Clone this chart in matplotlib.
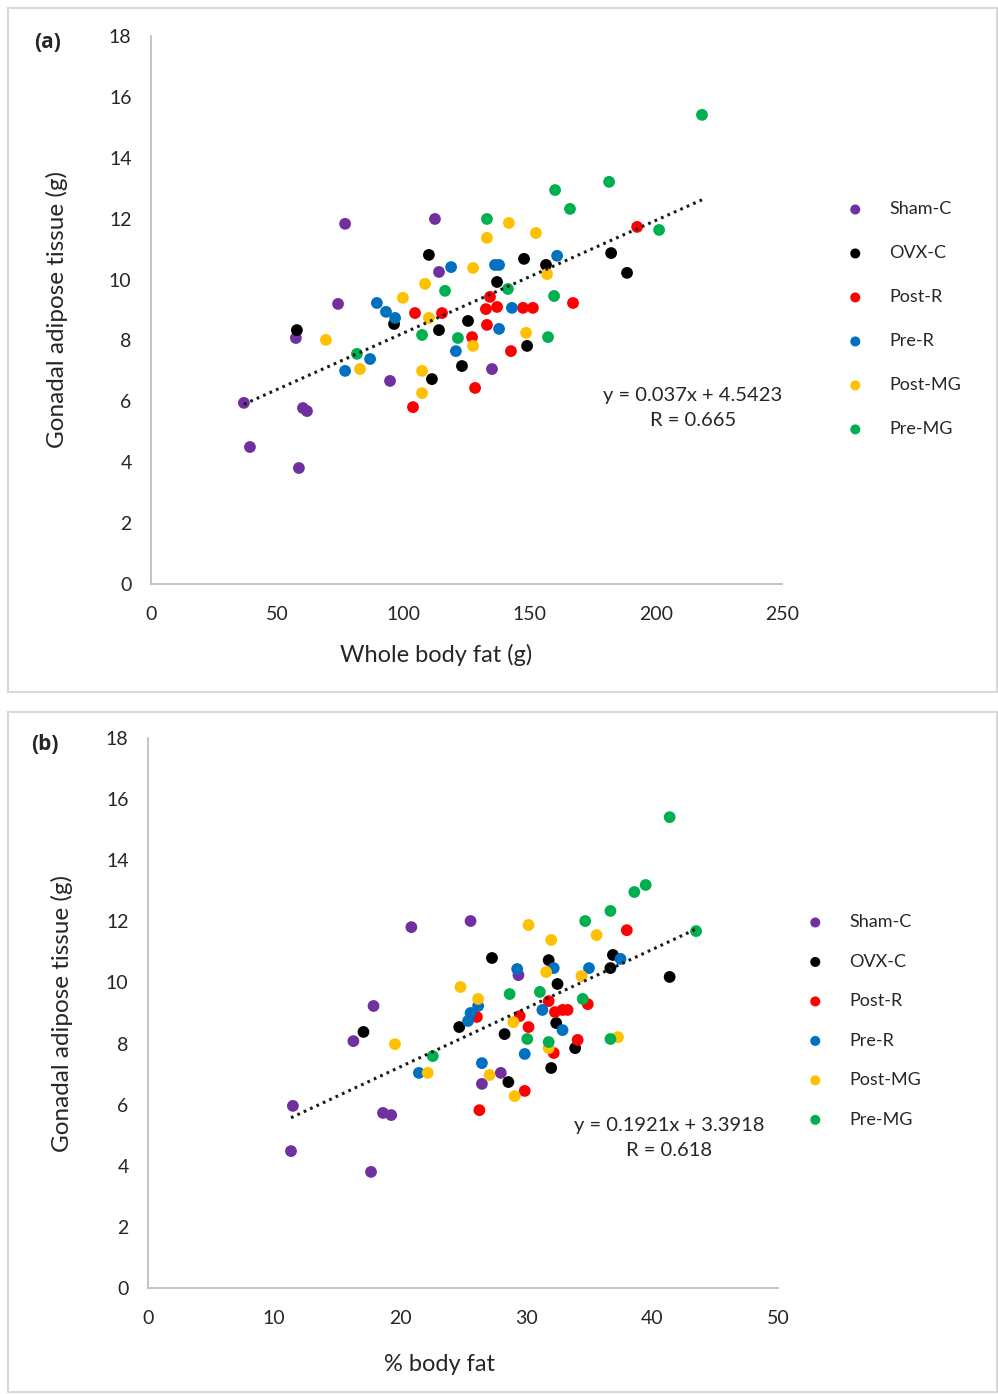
import matplotlib
matplotlib.use("Agg")
import matplotlib.pyplot as plt
from matplotlib.patches import Rectangle
import numpy as np

plt.rcParams['font.family'] = ['Lato', 'DejaVu Sans']

groups = ['Sham-C', 'OVX-C', 'Post-R', 'Pre-R', 'Post-MG', 'Pre-MG']
colors = ['#7030A0', '#000000', '#FF0000', '#0070C0', '#FFC000', '#00B050']

# (a) whole body fat (g) vs gonadal adipose tissue (g)
fat_g = {
    'Sham-C': [36.8, 39.2, 57.4, 58.6, 60.2, 61.8, 74.1, 76.9, 94.7, 112.5, 114.1, 135.1],
    'OVX-C': [57.8, 96.3, 110.1, 114.1, 111.3, 125.6, 123.2, 137.1, 147.8, 156.5, 182.3, 188.6, 149.0],
    'Post-R': [104.6, 115.3, 103.8, 127.2, 133.1, 132.7, 137.1, 134.3, 147.4, 151.3, 167.2, 142.6, 128.4, 192.6],
    'Pre-R': [89.5, 93.1, 96.7, 86.8, 76.9, 118.9, 136.3, 137.9, 160.9, 143.0, 137.9, 120.8],
    'Post-MG': [69.3, 82.8, 99.8, 108.6, 110.1, 107.4, 107.4, 127.6, 127.6, 133.1, 141.8, 152.5, 156.9, 148.6],
    'Pre-MG': [81.6, 107.4, 116.5, 121.6, 133.1, 141.4, 160.1, 166.0, 181.5, 218.3, 201.3, 159.7, 157.3],
}
gonadal_a = {
    'Sham-C': [5.95, 4.50, 8.08, 3.81, 5.78, 5.68, 9.20, 11.83, 6.67, 11.99, 10.25, 7.06],
    'OVX-C': [8.34, 8.54, 10.81, 8.34, 6.73, 8.64, 7.16, 9.92, 10.68, 10.48, 10.87, 10.22, 7.82],
    'Post-R': [8.90, 8.90, 5.81, 8.11, 8.51, 9.03, 9.10, 9.43, 9.07, 9.07, 9.23, 7.65, 6.44, 11.73],
    'Pre-R': [9.23, 8.94, 8.74, 7.39, 7.00, 10.41, 10.48, 10.48, 10.78, 9.07, 8.38, 7.65],
    'Post-MG': [8.02, 7.06, 9.40, 9.86, 8.74, 7.00, 6.27, 10.38, 7.82, 11.37, 11.86, 11.53, 10.18, 8.25],
    'Pre-MG': [7.56, 8.18, 9.63, 8.08, 11.99, 9.69, 12.94, 12.32, 13.21, 15.41, 11.63, 9.46, 8.11],
}

# (b) % body fat vs gonadal adipose tissue (g)
fat_pct = {
    'Sham-C': [20.9, 25.6, 17.9, 16.3, 11.5, 18.65, 19.3, 11.35, 17.7, 29.4, 26.5, 28.0],
    'OVX-C': [27.3, 31.8, 32.5, 36.9, 36.7, 41.4, 24.7, 28.3, 32.4, 33.9, 32.0, 28.6, 17.1],
    'Post-R': [38.0, 26.1, 29.5, 30.2, 31.8, 32.3, 32.9, 33.3, 34.9, 34.1, 32.2, 29.9, 26.3],
    'Pre-R': [29.3, 32.2, 35.0, 37.5, 26.2, 25.6, 25.4, 31.3, 32.9, 29.9, 26.5, 21.5],
    'Post-MG': [30.2, 32.0, 35.6, 24.8, 26.2, 31.6, 34.4, 29.0, 31.8, 37.3, 27.1, 29.1, 19.6, 22.2],
    'Pre-MG': [41.4, 39.5, 38.6, 36.7, 34.7, 43.5, 28.7, 31.1, 34.5, 30.1, 31.8, 36.7, 22.6],
}
gonadal_b = {
    'Sham-C': [11.81, 12.01, 9.23, 8.08, 5.96, 5.73, 5.66, 4.48, 3.80, 10.24, 6.68, 7.04],
    'OVX-C': [10.80, 10.73, 9.95, 10.90, 10.47, 10.18, 8.54, 8.31, 8.67, 7.85, 7.20, 6.74, 8.38],
    'Post-R': [11.71, 8.87, 8.90, 8.54, 9.39, 9.03, 9.10, 9.10, 9.29, 8.12, 7.69, 6.45, 5.82],
    'Pre-R': [10.44, 10.47, 10.47, 10.77, 9.23, 9.00, 8.74, 9.10, 8.44, 7.66, 7.36, 7.04],
    'Post-MG': [11.88, 11.39, 11.55, 9.85, 9.46, 10.34, 10.21, 8.70, 7.85, 8.21, 6.97, 6.28, 7.98, 7.04],
    'Pre-MG': [15.41, 13.19, 12.96, 12.34, 12.01, 11.68, 9.62, 9.69, 9.46, 8.15, 8.05, 8.15, 7.59],
}

fit_a = (0.037, 4.5423, 0.665)
fit_b = (0.1921, 3.3918, 0.618)

W, H = 998, 1394
fig = plt.figure(figsize=(W / 100, H / 100), dpi=100)
fig.patch.set_facecolor('white')
TXT = '#262626'


def px_box(x0, y0, x1, y1):
    # pixel box (top-left origin) -> figure fraction [left, bottom, width, height]
    return [x0 / W, 1 - y1 / H, (x1 - x0) / W, (y1 - y0) / H]


def panel(rect, xs, ys, fit, xmax, xlabel, tag, ylab_x, xlab_xy, leg_anchor, leg_space, eq_xy):
    ax = fig.add_axes(px_box(*rect))
    for g, c in zip(groups, colors):
        ax.scatter(xs[g], ys[g], s=72, color=c, edgecolors='none', label=g, zorder=3)

    allx = np.concatenate([xs[g] for g in groups])
    lx = np.array([allx.min(), allx.max()])
    ax.plot(lx, fit[0] * lx + fit[1], color='#1a1a1a', lw=2.2,
            linestyle=(0, (0.9, 1.4)), zorder=4)

    ax.set_xlim(0, xmax)
    ax.set_ylim(0, 18)
    ax.set_xticks(np.linspace(0, xmax, 6))
    ax.set_yticks(np.arange(0, 19, 2))
    for s in ['top', 'right']:
        ax.spines[s].set_visible(False)
    for s in ['left', 'bottom']:
        ax.spines[s].set_color('#BFBFBF')
        ax.spines[s].set_linewidth(1.3)
    ax.tick_params(length=0, labelsize=14, colors=TXT)
    ax.tick_params(axis='y', pad=14)
    ax.tick_params(axis='x', pad=16)

    ax.set_ylabel('Gonadal adipose tissue (g)', fontsize=17.5, color=TXT)
    ax.yaxis.set_label_coords(ylab_x, 0.5)
    ax.set_xlabel(xlabel, fontsize=17, color=TXT)
    ax.xaxis.set_label_coords(*xlab_xy)

    leg = ax.legend(loc='upper left', bbox_to_anchor=leg_anchor, bbox_transform=fig.transFigure,
                    frameon=False, fontsize=13, labelspacing=leg_space, handletextpad=0.9,
                    markerscale=0.85, borderaxespad=0)
    for t in leg.get_texts():
        t.set_color(TXT)

    fig.text(eq_xy[0] / W, 1 - eq_xy[1] / H,
             f'y = {fit[0]}x + {fit[1]}\nR = {fit[2]}', ha='center', va='center',
             fontsize=14.5, color=TXT, linespacing=1.6)
    fig.text((rect[0] - 117) / W, 1 - (rect[1] + 7) / H, tag, fontsize=15,
             fontweight='bold', color=TXT, ha='left', va='center',
             family=['Open Sans', 'DejaVu Sans'])
    return ax


# light grey frame around each panel
for y0, y1 in [(8, 692), (712, 1392)]:
    fig.patches.append(Rectangle((8 / W, 1 - y1 / H), 989 / W, (y1 - y0) / H,
                                 transform=fig.transFigure, fill=False,
                                 edgecolor='#D9D9D9', lw=1.5))

panel((151, 36, 782, 584), fat_g, gonadal_a, fit_a, 250, 'Whole body fat (g)', '(a)',
      -0.131, (0.452, -0.11), (830 / W, 1 - 194 / H), 1.55, (693, 408))
panel((148, 738, 778, 1288), fat_pct, gonadal_b, fit_b, 50, '% body fat', '(b)',
      -0.119, (0.463, -0.12), (790 / W, 1 - 907 / H), 1.3, (669, 1138))

fig.savefig('out.png', dpi=100, facecolor='white')
